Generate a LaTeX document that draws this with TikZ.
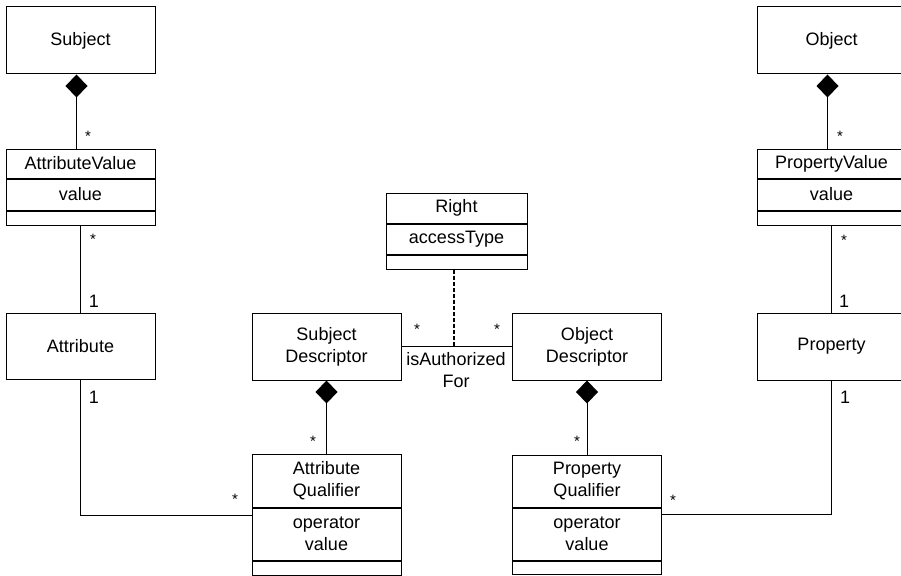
\documentclass[tikz,border=0pt]{standalone}
\usepackage{fontspec}
\setmainfont{Liberation Sans}
\usetikzlibrary{positioning,arrows.meta,calc}

\tikzset{every picture/.style={line width=1pt}}
\tikzset{
  cls/.style={draw, minimum width=149pt, inner sep=0pt, align=center, font=\fontsize{18}{22}\selectfont},
  mult/.style={anchor=base, inner sep=0pt, font=\fontsize{18}{22}\selectfont},
  many/.style={mult, font=\fontsize{15}{18}\selectfont},
  owns/.style={{Diamond[length=23pt,width=22pt]}-},
}

\begin{document}
\begin{tikzpicture}[x=1pt,y=1pt,yscale=-1,xscale=1]
\clip (0,0) rectangle (901,575);

%Subject column
\node [cls, minimum height=67pt] (subj) at (80.5,40.5) {Subject};
\node [cls, minimum height=29pt] (avn) at (80.5,163.5) {AttributeValue};
\node [cls, minimum height=31pt, below=0pt of avn] (avv) {value};
\node [cls, minimum height=14pt, below=0pt of avv] (avx) {};
\node [cls, minimum height=66pt] (attr) at (80.5,346) {Attribute};

%Descriptors and qualifiers
\node [cls, minimum height=67pt] (sd) at (326.5,346.5) {Subject\\Descriptor};
\node [cls, minimum height=53pt] (aqn) at (326.5,480.5) {Attribute\\Qualifier};
\node [cls, minimum height=52pt, below=0pt of aqn] (aqa) {operator\\value};
\node [cls, minimum height=14pt, below=0pt of aqa] (aqx) {};

\node [cls, minimum height=67pt] (od) at (587,346.5) {Object\\Descriptor};
\node [cls, minimum height=52pt] (pqn) at (587,481) {Property\\Qualifier};
\node [cls, minimum height=52pt, below=0pt of pqn] (pqa) {operator\\value};
\node [cls, minimum height=13pt, below=0pt of pqa] (pqx) {};

%Right class
\node [cls, minimum width=141pt, minimum height=30pt] (rtn) at (456.5,208) {Right};
\node [cls, minimum width=141pt, minimum height=30pt, below=0pt of rtn] (rta) {accessType};
\node [cls, minimum width=141pt, minimum height=14pt, below=0pt of rta] (rtx) {};

%Object column
\node [cls, minimum height=67pt] (obj) at (831.5,40.5) {Object};
\node [cls, minimum height=29pt] (pvn) at (831.5,163.5) {PropertyValue};
\node [cls, minimum height=31pt, below=0pt of pvn] (pvv) {value};
\node [cls, minimum height=14pt, below=0pt of pvv] (pvx) {};
\node [cls, minimum height=67pt] (prop) at (831.5,346.5) {Property};

%Connectors
\draw [owns] ([xshift=-4pt]subj.south) -- ([xshift=-4pt]avn.north);
\draw (avx.south) -- (attr.north);
\draw (attr.south) |- ($(aqa.north west)+(0,8)$);
\draw [owns] (sd.south) -- (aqn.north);
\draw (sd.east) -- (od.west);
\draw [dash pattern=on 4pt off 2pt, line width=2pt] ([xshift=-3pt]rtx.south) -- ([xshift=-3pt]rtx.south |- sd.east);
\draw [owns] (od.south) -- (pqn.north);
\draw [owns] ([xshift=-4pt]obj.south) -- ([xshift=-4pt]pvn.north);
\draw (pvx.south) -- (prop.north);
\draw (prop.south) |- ($(pqa.north east)+(0,7)$);

%Multiplicities
\node [many] (m1) at (88,141) {*};
\node [many] (m2) at (93,244) {*};
\node [mult] (m3) at (94,307) {1};
\node [mult] (m4) at (94,403) {1};
\node [many] (m5) at (235,504) {*};
\node [many] (m6) at (313,446) {*};
\node [many] (m7) at (417,334) {*};
\node [many] (m8) at (497,334) {*};
\node [many] (m9) at (577,446) {*};
\node [many] (m10) at (673,505) {*};
\node [mult] (m11) at (845,403) {1};
\node [many] (m12) at (844,245) {*};
\node [mult] (m13) at (844,307) {1};
\node [many] (m14) at (840,141) {*};

\node [cls, draw=none, minimum width=0pt] (assoc) at (456,370) {isAuthorized\\For};

\end{tikzpicture}
\end{document}
